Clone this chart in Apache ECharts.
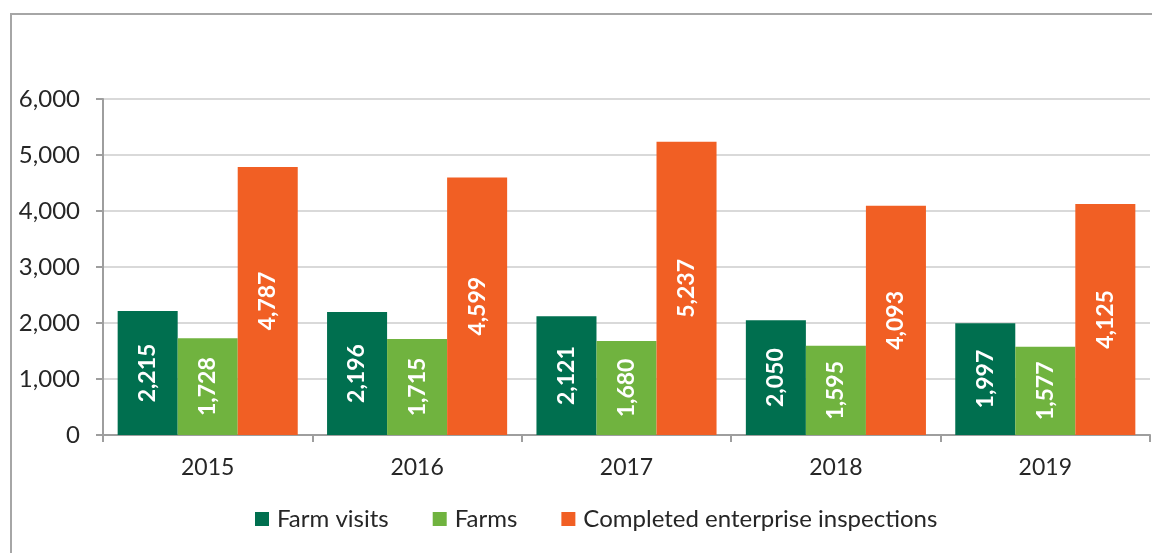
<!DOCTYPE html>
<html>
<head>
<meta charset="utf-8">
<script src="https://cdn.jsdelivr.net/npm/echarts@6/dist/echarts.min.js"></script>
<style>
  html, body { margin: 0; padding: 0; background: #ffffff; }
  #chart { width: 1152px; height: 553px; }
</style>
</head>
<body>
<div id="chart"></div>
<script>
// Annual inspection activity
const years = ['2015', '2016', '2017', '2018', '2019'];
const farmVisits = [2215, 2196, 2121, 2050, 1997];
const farms = [1728, 1715, 1680, 1595, 1577];
const enterpriseInspections = [4787, 4599, 5237, 4093, 4125];
const seriesNames = ['Farm visits', 'Farms', 'Completed enterprise inspections'];
const seriesColors = ['#006f4f', '#70b33f', '#f15f24'];

const FONT = 'Lato, "Open Sans", sans-serif';

const chart = echarts.init(document.getElementById('chart'), null, { renderer: 'canvas' });

const fmt = v => v.toLocaleString('en-US');

function barSeries(name, data, color) {
  return {
    name: name,
    type: 'bar',
    data: data,
    barGap: '0%',
    barCategoryGap: '14%',
    itemStyle: { color: color },
    label: {
      show: true,
      position: 'inside',
      rotate: 90,
      color: '#ffffff',
      fontFamily: FONT,
      fontWeight: 'bold',
      fontSize: 23,
      formatter: p => fmt(p.value)
    }
  };
}

chart.setOption({
  animation: false,
  graphic: [{
    type: 'rect',
    shape: { x: 11, y: 14, width: 1200, height: 600 },
    style: { fill: 'none', stroke: '#a6a6a6', lineWidth: 2 },
    silent: true
  }],
  grid: { left: 103, right: 2, top: 99, bottom: 118 },
  legend: {
    top: 502,
    left: 250,
    itemWidth: 14,
    itemHeight: 14,
    itemGap: 44,
    icon: 'rect',
    textStyle: { fontFamily: FONT, fontSize: 24, color: '#262626', padding: [0, 0, 0, 3] },
    data: seriesNames
  },
  xAxis: {
    type: 'category',
    data: years,
    axisLine: { lineStyle: { color: '#9e9e9e', width: 2 } },
    axisTick: { show: true, length: 7, lineStyle: { color: '#9e9e9e', width: 2 } },
    axisLabel: { fontFamily: FONT, fontSize: 23, color: '#262626', margin: 21 }
  },
  yAxis: {
    type: 'value',
    min: 0,
    max: 6000,
    interval: 1000,
    axisLine: { show: true, lineStyle: { color: '#9e9e9e', width: 2 } },
    axisTick: { show: true, length: 7, lineStyle: { color: '#9e9e9e', width: 2 } },
    splitLine: { lineStyle: { color: '#d9d9d9', width: 2 } },
    axisLabel: { fontFamily: FONT, fontSize: 24, color: '#262626', margin: 23, formatter: v => fmt(v) }
  },
  series: [
    barSeries(seriesNames[0], farmVisits, seriesColors[0]),
    barSeries(seriesNames[1], farms, seriesColors[1]),
    barSeries(seriesNames[2], enterpriseInspections, seriesColors[2])
  ]
});
</script>
</body>
</html>
